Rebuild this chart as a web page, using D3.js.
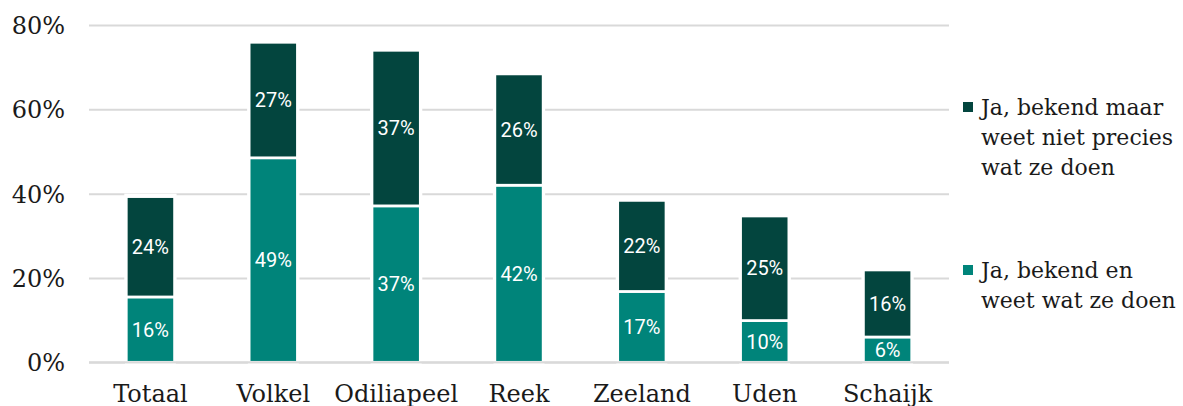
<!DOCTYPE html>
<html lang="nl">

<head>
    <meta charset="UTF-8">
    <title>Bekendheid</title>
    <style>
        body { margin: 0; background: #fff; }
        svg { display: block; }
    </style>
</head>

<body>
    <script src="https://cdn.jsdelivr.net/npm/d3@7"></script>
    <script>
        // data
        var categories = ['Totaal', 'Volkel', 'Odiliapeel', 'Reek', 'Zeeland', 'Uden', 'Schaijk'];
        var bekendWeet = [15.5, 48.5, 37.1, 42.0, 16.8, 9.9, 6.0];       // Ja, bekend en weet wat ze doen
        var bekendNiet = [23.8, 27.4, 36.9, 26.4, 21.6, 24.8, 15.9];     // Ja, bekend maar weet niet precies wat ze doen
        var yTicks = [0, 20, 40, 60, 80];
        var seriesNames = ['Ja, bekend en weet wat ze doen', 'Ja, bekend maar weet niet precies wat ze doen'];
        var legendLines = [
            ['Ja, bekend maar', 'weet niet precies', 'wat ze doen'],
            ['Ja, bekend en', 'weet wat ze doen']
        ];

        var W = 1183, H = 406;
        var colors = ['#00847a', '#03453e'];
        var serif = "'DejaVu Serif', serif";
        var sans = "Roboto, 'Open Sans', sans-serif";

        var svg = d3.select('body').append('svg').attr('width', W).attr('height', H);

        var x = d3.scaleBand().domain(categories).range([89, 949]).paddingInner(0.607).paddingOuter(0.3035);
        var y = d3.scaleLinear().domain([0, 80]).range([362.3, 25]);

        // rijen voor stack
        var rows = categories.map(function (c, i) {
            return { cat: c, s0: bekendWeet[i], s1: bekendNiet[i] };
        });
        var stack = d3.stack().keys(['s0', 's1'])(rows);

        // gridlijnen
        var yAxis = d3.axisLeft(y).tickValues(yTicks).tickSize(-(949 - 89)).tickFormat(function (d) { return d + '%'; });
        var gy = svg.append('g').attr('transform', 'translate(89,0)').call(yAxis);
        gy.select('.domain').remove();
        gy.selectAll('.tick line').attr('stroke', '#d9d9d9').attr('stroke-width', 2);
        gy.selectAll('.tick text').attr('x', -24).attr('dy', '0.36em')
            .style('font-family', serif).style('font-size', '24px').attr('fill', '#1a1a1a');

        // witte achtergrond rond de staven (onderbreekt gridlijnen)
        svg.append('g').selectAll('rect').data(rows).join('rect')
            .attr('x', function (d) { return x(d.cat) - 2; })
            .attr('width', x.bandwidth() + 4)
            .attr('y', function (d) { return y(d.s0 + d.s1) - 3; })
            .attr('height', function (d) { return y(0) - 1.5 - y(d.s0 + d.s1) + 3; })
            .attr('fill', '#fff');

        // staven
        var layers = svg.append('g').selectAll('g').data(stack).join('g')
            .attr('fill', function (d, i) { return colors[i]; });

        layers.selectAll('rect').data(function (d) { return d; }).join('rect')
            .attr('x', function (d) { return x(d.data.cat); })
            .attr('width', x.bandwidth())
            .attr('y', function (d) { return y(d[1]); })
            .attr('height', function (d) { return y(d[0]) - y(d[1]); })
            .attr('stroke', '#fff').attr('stroke-width', 2.7);

        layers.selectAll('text').data(function (d) { return d; }).join('text')
            .attr('x', function (d) { return x(d.data.cat) + x.bandwidth() / 2; })
            .attr('y', function (d) { return (y(d[0]) + y(d[1])) / 2; })
            .attr('dy', '0.36em')
            .attr('text-anchor', 'middle')
            .attr('fill', '#fff')
            .style('font-family', sans).style('font-size', '20px')
            .text(function (d) { return Math.round(d[1] - d[0]) + '%'; });

        // nullijn bovenop
        svg.append('line').attr('x1', 89).attr('x2', 949).attr('y1', y(0)).attr('y2', y(0))
            .attr('stroke', '#d9d9d9').attr('stroke-width', 2);

        // x-as labels
        var gx = svg.append('g').attr('transform', 'translate(0,' + y(0) + ')')
            .call(d3.axisBottom(x).tickSize(0).tickPadding(0));
        gx.select('.domain').remove();
        gx.selectAll('.tick text').attr('y', 0).attr('dy', 40)
            .style('font-family', serif).style('font-size', '24px').attr('fill', '#1a1a1a');

        // legenda
        var legendY = [107, 270];
        var legend = svg.append('g').selectAll('g').data(legendLines).join('g')
            .attr('transform', function (d, i) { return 'translate(963,' + legendY[i] + ')'; });
        legend.append('rect').attr('x', 0).attr('y', -5).attr('width', 10).attr('height', 10)
            .attr('fill', function (d, i) { return colors[1 - i]; });
        legend.append('text')
            .style('font-family', serif).style('font-size', '22px').attr('fill', '#1a1a1a')
            .selectAll('tspan').data(function (d) { return d; }).join('tspan')
            .attr('x', 18).attr('y', function (d, j) { return 8 + j * 30; })
            .text(function (d) { return d; });
    </script>
</body>

</html>
